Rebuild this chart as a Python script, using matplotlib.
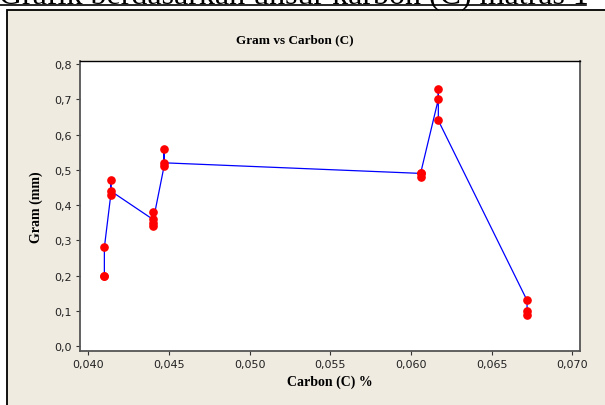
import matplotlib.pyplot as plt
from matplotlib.patches import Rectangle
from matplotlib.lines import Line2D
from matplotlib.ticker import FuncFormatter

# data (in plotting order, as the line connects them)
carbon = [0.0410, 0.0410, 0.0410,
          0.0414, 0.0414, 0.0414,
          0.0440, 0.0440, 0.0440, 0.0440,
          0.0447, 0.0447, 0.0447,
          0.0606, 0.0606, 0.0606,
          0.0617, 0.0617, 0.0617,
          0.0672, 0.0672, 0.0672]
gram = [0.20, 0.20, 0.28,
        0.43, 0.47, 0.44,
        0.36, 0.38, 0.34, 0.35,
        0.51, 0.56, 0.52,
        0.49, 0.48, 0.49,
        0.70, 0.73, 0.64,
        0.13, 0.10, 0.09]

x_ticks = [0.040, 0.045, 0.050, 0.055, 0.060, 0.065, 0.070]
y_ticks = [0.0, 0.1, 0.2, 0.3, 0.4, 0.5, 0.6, 0.7, 0.8]

W, H = 605, 406
fig = plt.figure(figsize=(W / 100, H / 100), dpi=100)
fig.patch.set_facecolor('white')

# beige Minitab panel with black frame
panel = Rectangle((7 / W, -0.1), 1.2, 1 - 11 / H + 0.1, transform=fig.transFigure,
                  facecolor='#efebe1', edgecolor='black', linewidth=1.3, zorder=-5)
fig.patches.append(panel)

# cropped document heading above the panel
fig.text(-1 / W, 1 - 4 / H, 'Grafik berdasarkan unsur karbon (C) matras 1',
         fontfamily='Liberation Serif', fontsize=23, ha='left', va='baseline')
fig.lines.append(Line2D([0, 586 / W], [1 - 6 / H, 1 - 6 / H],
                        transform=fig.transFigure, color='black', linewidth=1.2))

ax = fig.add_axes([80 / W, 1 - 351.7 / H, 500.3 / W, 290 / H], zorder=2)
ax.set_facecolor('white')

ax.plot(carbon, gram, color='blue', linewidth=0.9, zorder=2)
ax.plot(carbon, gram, linestyle='none', marker='o', markersize=5.2,
        color='red', markeredgecolor='red', zorder=3)

ax.set_xlim(0.03949, 0.0705)
ax.set_ylim(-0.0125, 0.8094)
ax.set_xticks(x_ticks)
ax.set_yticks(y_ticks)
ax.xaxis.set_major_formatter(FuncFormatter(lambda v, p: f'{v:.3f}'.replace('.', ',')))
ax.yaxis.set_major_formatter(FuncFormatter(lambda v, p: f'{v:.1f}'.replace('.', ',')))
ax.tick_params(labelsize=8, length=3, width=0.8, color='#333333', labelcolor='#222222', pad=3)

for side in ['left', 'bottom', 'right']:
    ax.spines[side].set_color('#555555')
    ax.spines[side].set_linewidth(1.3)
ax.spines['top'].set_color('black')
ax.spines['top'].set_linewidth(1.0)

ax.set_xlabel('Carbon (C) %', fontfamily='Liberation Serif', fontweight='bold',
              fontsize=10, labelpad=4)
ax.set_ylabel('Gram (mm)', fontfamily='Liberation Serif', fontweight='bold',
              fontsize=10, labelpad=8)

fig.text(295 / W, 1 - 40 / H, 'Gram vs Carbon (C)', fontfamily='Liberation Serif',
         fontweight='bold', fontsize=9.5, ha='center', va='center')

fig.savefig('out.png', dpi=100)
